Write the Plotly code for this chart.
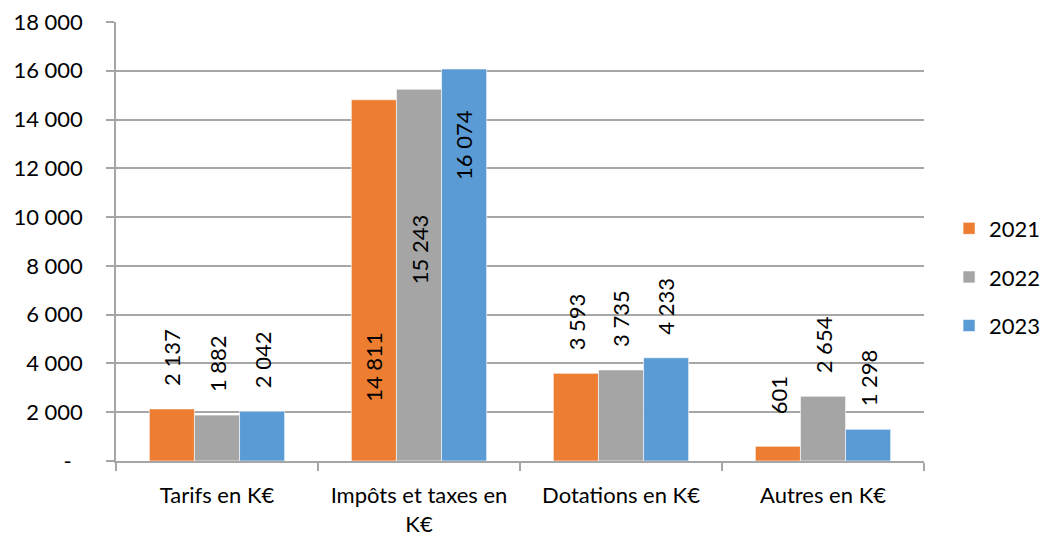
import plotly.graph_objects as go

categories = ["Tarifs en K€", "Impôts et taxes en<br>K€", "Dotations en K€", "Autres en K€"]
years = ["2021", "2022", "2023"]
values_2021 = [2137, 14811, 3593, 601]
values_2022 = [1882, 15243, 3735, 2654]
values_2023 = [2042, 16074, 4233, 1298]
value_labels_2021 = ["2 137", "14 811", "3 593", "601"]
value_labels_2022 = ["1 882", "15 243", "3 735", "2 654"]
value_labels_2023 = ["2 042", "16 074", "4 233", "1 298"]
tick_values = [0, 2000, 4000, 6000, 8000, 10000, 12000, 14000, 16000, 18000]
tick_labels = ["-\u00a0\u00a0", "2 000", "4 000", "6 000", "8 000", "10 000",
               "12 000", "14 000", "16 000", "18 000"]

colors = ["#ED7D31", "#A5A5A5", "#5B9BD5"]
series = [values_2021, values_2022, values_2023]
labels = [value_labels_2021, value_labels_2022, value_labels_2023]

FONT = "Lato"
FS = 22
fig = go.Figure()
for i, (yr, vals) in enumerate(zip(years, series)):
    fig.add_trace(go.Bar(
        x=categories, y=vals, name=yr, legendgroup=yr,
        marker=dict(color=colors[i], line=dict(color="rgba(255,255,255,0.6)", width=1)),
    ))

# label placement: center of rotated label, pixels above bar top (negative = inside)
label_shift = {1: [-268, -161, -76]}
bar_px = 45
for i in range(3):
    for j, cat in enumerate(categories):
        shift = label_shift[j][i] if j in label_shift else 51
        fig.add_annotation(
            x=cat, y=series[i][j], xref="x", yref="y",
            text=labels[i][j], textangle=-90, showarrow=False,
            xshift=(i - 1) * bar_px, yshift=shift,
            yanchor="middle", xanchor="center",
            font=dict(family=FONT, size=FS, color="#000000"),
        )

fig.update_layout(
    width=1040, height=536,
    margin=dict(l=116, r=116, t=22, b=75, autoexpand=False),
    paper_bgcolor="white", plot_bgcolor="white",
    barmode="group", bargap=0.33, bargroupgap=0,
    font=dict(family=FONT, size=FS, color="#000000"),
    showlegend=True,
    legend=dict(
        x=1.031, xanchor="left", y=0.419, yanchor="middle",
        font=dict(family=FONT, size=FS, color="#000000"),
        tracegroupgap=17, bgcolor="rgba(0,0,0,0)",
    ),
)
fig.update_xaxes(
    type="category", showline=True, linecolor="#A6A6A6", linewidth=1.5,
    ticks="outside", tickson="boundaries", ticklen=8, tickcolor="#A6A6A6", tickwidth=1.5,
    showgrid=False, ticklabelstandoff=14, automargin=False,
    tickfont=dict(family=FONT, size=FS, color="#000000"),
)
fig.update_yaxes(
    range=[0, 18000], tickvals=tick_values, ticktext=tick_labels,
    showline=True, linecolor="#A6A6A6", linewidth=1.5,
    ticks="outside", ticklen=8, tickcolor="#A6A6A6", tickwidth=1.5,
    showgrid=True, gridcolor="#A6A6A6", gridwidth=1.5,
    ticklabelstandoff=19, zeroline=False, automargin=False,
    tickfont=dict(family=FONT, size=FS, color="#000000"),
)

fig.write_html("out.html",
               config={"displayModeBar": False},
               post_script="document.body.style.margin='0';document.body.style.overflow='hidden';")
